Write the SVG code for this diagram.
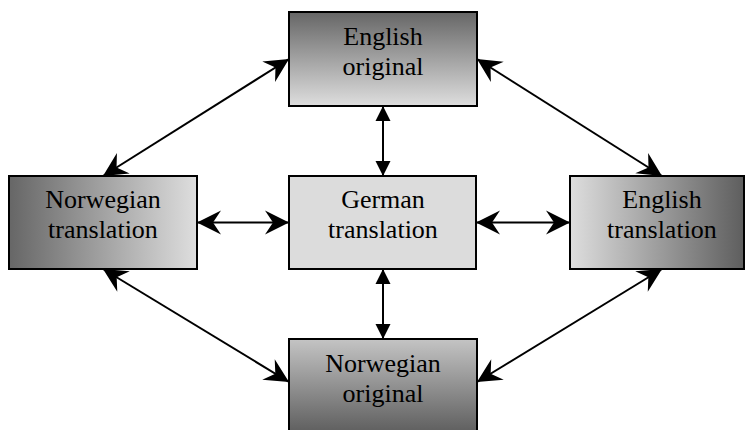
<svg xmlns="http://www.w3.org/2000/svg" width="746" height="430" viewBox="0 0 746 430">
<style>
.box{stroke:#000;stroke-width:2}
.t{font-family:"Liberation Serif","Times New Roman",serif;font-size:26px;fill:#000;text-anchor:middle}
.c{stroke:#000;stroke-width:2;fill:none}
</style>
<defs>
<linearGradient id="gTop" x1="0" y1="0" x2="0" y2="1"><stop offset="0" stop-color="#666"/><stop offset="1" stop-color="#dedede"/></linearGradient>
<linearGradient id="gBot" x1="0" y1="0" x2="0" y2="1"><stop offset="0" stop-color="#c4c4c4"/><stop offset="1" stop-color="#5e5e5e"/></linearGradient>
<linearGradient id="gLeft" x1="0" y1="0" x2="1" y2="0"><stop offset="0" stop-color="#666"/><stop offset="1" stop-color="#dedede"/></linearGradient>
<linearGradient id="gRight" x1="0" y1="0" x2="1" y2="0"><stop offset="0" stop-color="#dedede"/><stop offset="1" stop-color="#5e5e5e"/></linearGradient>
<marker id="st" markerUnits="userSpaceOnUse" viewBox="-26 -13 28 26" refX="0" refY="0" markerWidth="28" markerHeight="26" orient="auto-start-reverse"><path d="M0,0 L-24,-12 L-16,0 L-24,12 Z" fill="#000"/></marker>
<marker id="tr" markerUnits="userSpaceOnUse" viewBox="-16 -8 17 16" refX="0" refY="0" markerWidth="17" markerHeight="16" orient="auto-start-reverse"><path d="M0,0 L-15,-7.5 L-15,7.5 Z" fill="#000"/></marker>
</defs>
<g id="connectors">
<line class="c" x1="383" y1="106" x2="383" y2="176" marker-start="url(#tr)" marker-end="url(#tr)"/>
<line class="c" x1="383" y1="269" x2="383" y2="339" marker-start="url(#tr)" marker-end="url(#tr)"/>
<line class="c" x1="197" y1="222.5" x2="289" y2="222.5" marker-start="url(#st)" marker-end="url(#st)"/>
<line class="c" x1="476" y1="222.5" x2="570" y2="222.5" marker-start="url(#st)" marker-end="url(#st)"/>
<line class="c" x1="103" y1="176" x2="289" y2="59" marker-start="url(#st)" marker-end="url(#st)"/>
<line class="c" x1="477" y1="59" x2="662" y2="176" marker-start="url(#st)" marker-end="url(#st)"/>
<line class="c" x1="103" y1="269" x2="289" y2="382" marker-start="url(#st)" marker-end="url(#st)"/>
<line class="c" x1="662" y1="269" x2="477" y2="382" marker-start="url(#st)" marker-end="url(#st)"/>
</g>
<g id="english-original">
<rect class="box" x="289" y="12" width="188" height="94" fill="url(#gTop)"/>
<text class="t" x="383" y="45">English</text>
<text class="t" x="383" y="75">original</text>
</g>
<g id="norwegian-translation">
<rect class="box" x="9" y="176" width="188" height="93" fill="url(#gLeft)"/>
<text class="t" x="103" y="208">Norwegian</text>
<text class="t" x="103" y="238">translation</text>
</g>
<g id="german-translation">
<rect class="box" x="289" y="176" width="187" height="93" fill="#dcdcdc"/>
<text class="t" x="383" y="208">German</text>
<text class="t" x="383" y="238">translation</text>
</g>
<g id="english-translation">
<rect class="box" x="570" y="176" width="174" height="93" fill="url(#gRight)"/>
<text class="t" x="662" y="208">English</text>
<text class="t" x="662" y="238">translation</text>
</g>
<g id="norwegian-original">
<rect class="box" x="289" y="339" width="188" height="94" fill="url(#gBot)"/>
<text class="t" x="383" y="372">Norwegian</text>
<text class="t" x="383" y="402">original</text>
</g>
</svg>
